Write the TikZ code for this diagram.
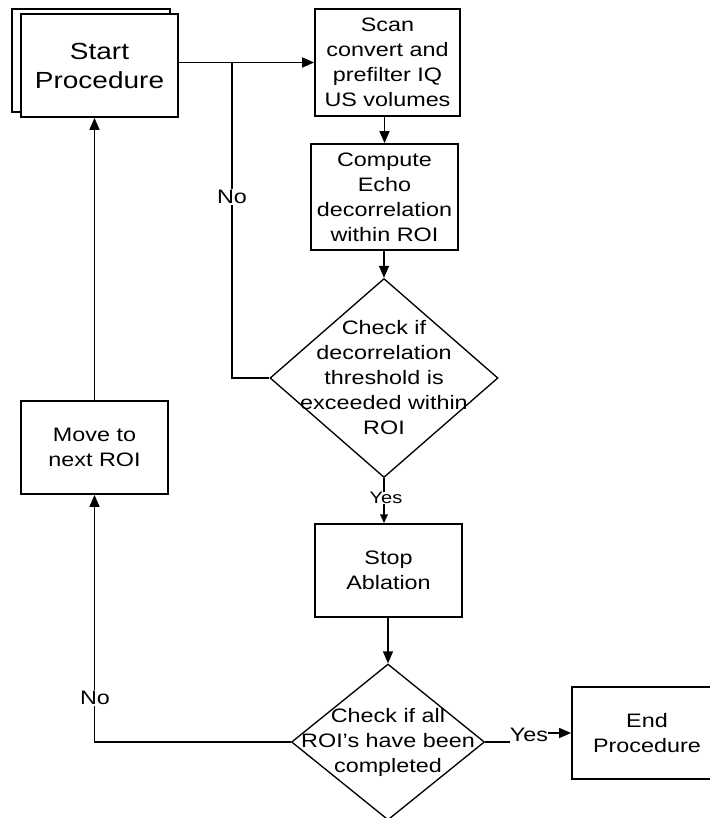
\documentclass[tikz,border=0pt]{standalone}
\usepackage{fontspec}
\setmainfont[FakeStretch=1.2]{Liberation Sans}
\usetikzlibrary{shapes.geometric,arrows.meta}
\newcommand\boxfont{\fontsize{14.6pt}{18.75pt}\selectfont}
\newcommand\startfont{\fontsize{17.5pt}{21.75pt}\selectfont}
\newcommand\smallfont{\fontsize{12.5pt}{15pt}\selectfont}
\tikzset{
  box/.style={draw, line width=1.3pt, fill=white, inner sep=0pt, align=center, font=\boxfont},
  dia/.style={draw, diamond, line width=1pt, inner sep=0pt, fill=white},
  txt/.style={align=center, inner sep=0pt, font=\boxfont},
  conn/.style={line width=1.1pt},
  arr/.style={conn, -{Triangle[length=9pt,width=7.5pt]}},
  smallarr/.style={conn, -{Triangle[length=6.5pt,width=5.5pt]}},
  lbl/.style={fill=white, inner sep=1pt, font=\boxfont},
}
\begin{document}
\begin{tikzpicture}[x=0.75pt,y=-0.75pt]
  \useasboundingbox (0,0) rectangle (710,818);
  \clip (0,0) rectangle (710,818);

  % start block: a stack of two pages
  \node[box, minimum width=118.5pt, minimum height=77.25pt] (startback) at (91,60.5) {};
  \node[box, font=\startfont, minimum width=117.75pt, minimum height=77.25pt] (start) at (99.5,65.5) {Start\\Procedure};

  \node[box, minimum width=108.75pt, minimum height=80.25pt] (scan) at (387.5,62.5) {Scan\\convert and\\prefilter IQ\\US volumes};
  \node[box, minimum width=110.25pt, minimum height=79.5pt] (compute) at (384.5,197) {Compute\\Echo\\decorrelation\\within ROI};

  \node[dia, minimum width=171pt, minimum height=149.25pt] (d1) at (384,378) {};
  \node[txt] (d1text) at (d1) {Check if\\decorrelation\\threshold is\\exceeded within\\ROI};

  \node[box, minimum width=110.25pt, minimum height=69.75pt] (stop) at (388.5,570.5) {Stop\\Ablation};

  \node[dia, minimum width=144.75pt, minimum height=117pt] (d2) at (388,742) {};
  \node[txt] (d2text) at (d2) {Check if all\\ROI's have been\\completed};

  \node[box, minimum width=112.5pt, minimum height=69pt] (end) at (647,733) {End\\Procedure};
  \node[box, minimum width=110.25pt, minimum height=69.75pt] (move) at (94.5,447.5) {Move to\\next ROI};

  \coordinate (J) at (232,62.5);

  % main flow
  \draw[arr] (start.east |- scan.west) -- (scan.west);
  \draw[arr] (scan.south -| compute.north) -- (compute.north);
  \draw[arr] (compute.south -| d1.north) -- (d1.north);
  \draw[smallarr] (d1.south) -- (d1.south |- stop.north);
  \draw[arr] (stop.south -| d2.north) -- (d2.north);

  % loop back when the threshold is not exceeded
  \draw[conn] (d1.west) -| (J);
  \node[lbl] (no1) at (232,197) {No};
  \node[lbl, font=\smallfont, inner sep=0.5pt] (yes1) at (386,498) {Yes};

  % loop over all regions of interest
  \draw[arr] (d2.west) -| (move.south);
  \node[lbl] (no2) at (95,698) {No};
  \draw[arr] (move.north) -- (move.north |- start.south);

  % finish
  \node[lbl, inner sep=0pt] (yes2) at (529,735) {Yes};
  \draw[conn] (d2.east) -- (d2.east -| yes2.west);
  \draw[arr] (yes2.east |- end.west) -- (end.west);
\end{tikzpicture}
\end{document}
